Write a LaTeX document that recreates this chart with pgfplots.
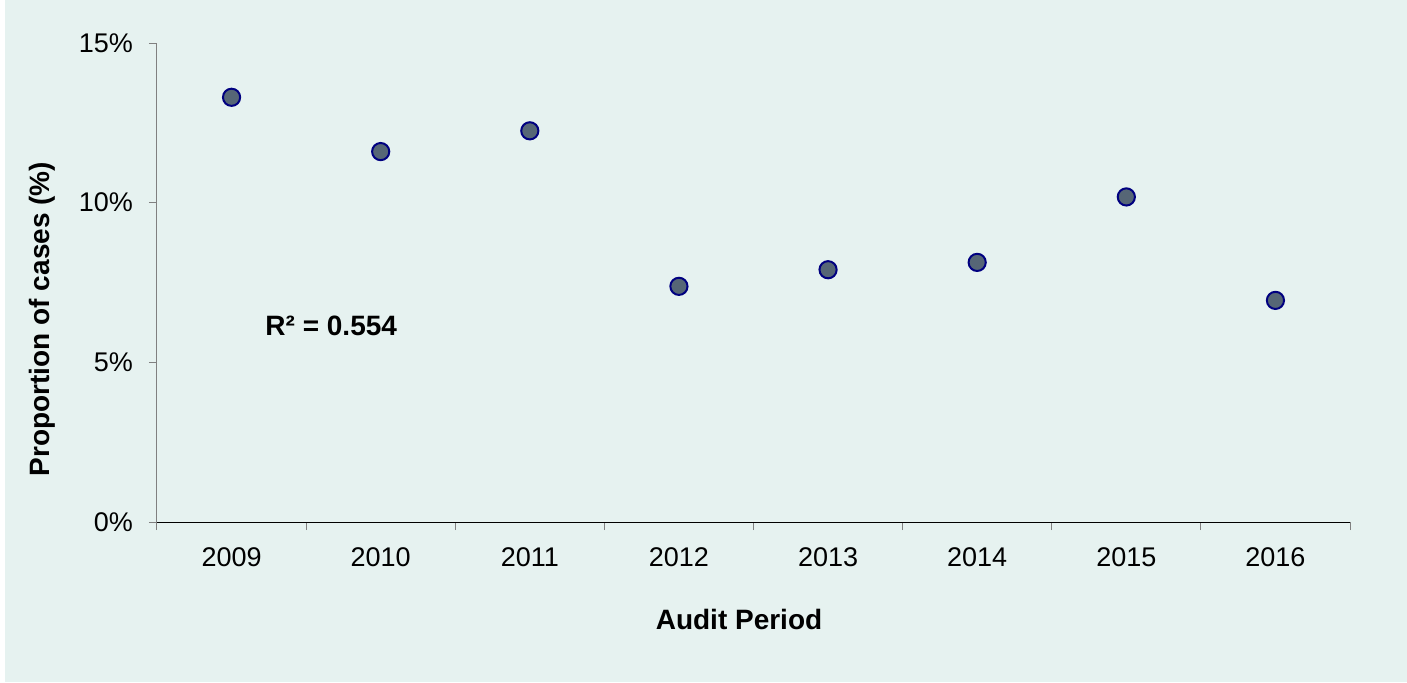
\documentclass[border=0pt]{standalone}
\usepackage{fontspec}
\setmainfont{Liberation Sans}
\usepackage{pgfplots}
\pgfplotsset{compat=1.18}

\definecolor{bgmint}{RGB}{230,242,240}
\definecolor{dotfill}{RGB}{86,102,118}
\definecolor{dotedge}{RGB}{0,0,128}

\begin{document}
\begin{tikzpicture}
  % page frame: 1px = 0.5pt
  \useasboundingbox (-78.5pt,-80pt) rectangle (625pt,261pt);
  \fill[white] (-78.5pt,-80pt) rectangle (625pt,261pt);
  \fill[bgmint] (-76pt,-80pt) rectangle (625pt,261pt);
  \begin{axis}[
    name=ax,
    at={(0,0)}, anchor=south west,
    scale only axis,
    width=596.5pt, height=239.5pt,
    xmin=-0.5, xmax=7.5,
    ymin=0, ymax=15,
    axis x line*=bottom,
    axis y line*=left,
    x axis line style={black, line width=0.5pt},
    y axis line style={gray, line width=0.5pt},
    xtick={0,...,7},
    xticklabels={2009,2010,2011,2012,2013,2014,2015,2016},
    minor xtick={-0.5,0.5,...,7.5},
    ytick={0,5,10,15},
    yticklabels={0\%,5\%,10\%,15\%},
    tick align=outside,
    major tick length=4pt,
    x tick style={draw=none},
    minor x tick style={draw=gray, line width=0.5pt},
    minor tick length=4pt,
    y tick style={gray, line width=0.5pt},
    tick label style={font=\fontsize{13.5}{16}\selectfont},
    xticklabel style={yshift=-5.5pt},
    yticklabel style={xshift=-4.5pt},
    /pgf/number format/assume math mode=true,
    clip=false,
  ]
    \addplot[only marks, mark=*, mark size=4.3pt,
      mark options={fill=dotfill, draw=dotedge, line width=1pt}]
      coordinates {
      (0,13.30)
      (1,11.60)
      (2,12.25)
      (3,7.38)
      (4,7.90)
      (5,8.13)
      (6,10.18)
      (7,6.94)
    };
    \node[anchor=west, font=\fontsize{14}{16}\selectfont\bfseries]
      at (axis cs:0.18,6.15) {R² = 0.554};
  \end{axis}
  \node[rotate=90, font=\fontsize{14}{16}\selectfont\bfseries]
    at ([xshift=-57.5pt,yshift=101.5pt]ax.south west) {Proportion of cases (\%)};
  \node[font=\fontsize{14}{16}\selectfont\bfseries]
    at ([xshift=291pt,yshift=-48.5pt]ax.south west) {Audit Period};
\end{tikzpicture}
\end{document}
